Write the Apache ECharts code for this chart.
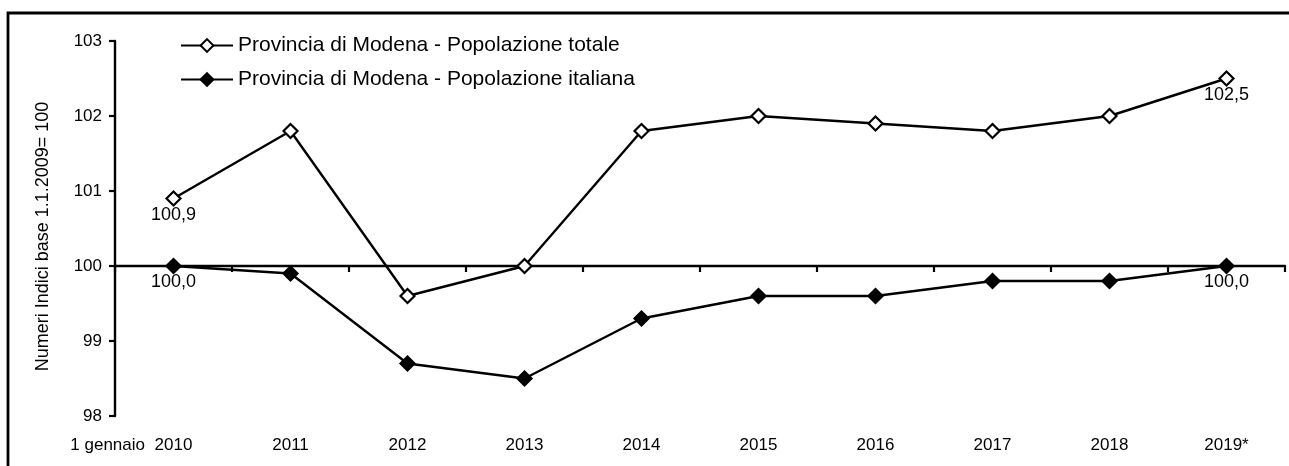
<!DOCTYPE html>
<html>
<head>
<meta charset="utf-8">
<script src="https://cdn.jsdelivr.net/npm/echarts@6/dist/echarts.min.js"></script>
<style>
html,body{margin:0;padding:0;background:#fff;}
#chart{width:1289px;height:466px;}
</style>
</head>
<body>
<div id="chart"></div>
<script>
const categories = ['2010','2011','2012','2013','2014','2015','2016','2017','2018','2019*'];
const totale = [100.9, 101.8, 99.6, 100.0, 101.8, 102.0, 101.9, 101.8, 102.0, 102.5];
const italiana = [100.0, 99.9, 98.7, 98.5, 99.3, 99.6, 99.6, 99.8, 99.8, 100.0];
const seriesNames = ['Provincia di Modena - Popolazione totale', 'Provincia di Modena - Popolazione italiana'];
const yAxisName = 'Numeri Indici base 1.1.2009= 100';
const xPrefix = '1 gennaio';
const labelledIdx = [0, 9];

const FONT = '"Liberation Sans", Arial, sans-serif';
const fmt = v => v.toFixed(1).replace('.', ',');

const chart = echarts.init(document.getElementById('chart'), null, {renderer: 'canvas'});

function labelled(arr) {
  return arr.map((v, i) => labelledIdx.includes(i)
    ? {value: v, label: {show: true, position: 'bottom', distance: -1, formatter: p => fmt(p.value), color: '#000', fontFamily: FONT, fontSize: 18}}
    : v);
}

chart.setOption({
  animation: false,
  backgroundColor: '#fff',
  textStyle: {fontFamily: FONT, color: '#000'},
  grid: {left: 115, right: 4, top: 41, bottom: 50, containLabel: false},
  legend: {
    orient: 'vertical', left: 180, top: 35, padding: 0,
    itemWidth: 52, itemHeight: 16, itemGap: 13,
    textStyle: {fontFamily: FONT, fontSize: 21, color: '#000'},
    data: seriesNames
  },
  xAxis: [
    {
      type: 'category', data: categories, boundaryGap: true, position: 'bottom',
      axisLine: {show: false}, axisTick: {show: false},
      axisLabel: {color: '#000', fontFamily: FONT, fontSize: 17, margin: 21, interval: 0},
      splitLine: {show: false}
    },
    {
      type: 'category', data: categories, boundaryGap: true, position: 'bottom', offset: -150,
      axisLine: {show: true, lineStyle: {color: '#000', width: 2.4}},
      axisTick: {show: true, inside: false, length: 6, lineStyle: {color: '#000', width: 2.2}, interval: 0},
      axisLabel: {show: false},
      splitLine: {show: false}
    }
  ],
  yAxis: {
    type: 'value', min: 98, max: 103, interval: 1,
    name: yAxisName, nameLocation: 'middle', nameGap: 63,
    nameTextStyle: {fontFamily: FONT, fontSize: 18, color: '#000', padding: [0, 16, 0, 0]},
    axisLine: {show: true, lineStyle: {color: '#000', width: 2.4}},
    axisTick: {show: true, length: 6, lineStyle: {color: '#000', width: 2.2}},
    axisLabel: {color: '#000', fontFamily: FONT, fontSize: 17, margin: 13},
    splitLine: {show: false}
  },
  series: [
    {
      name: seriesNames[0], type: 'line', data: labelled(totale),
      symbol: 'diamond', symbolSize: 14, showAllSymbol: true,
      lineStyle: {color: '#000', width: 2.4},
      itemStyle: {color: '#fff', borderColor: '#000', borderWidth: 2.2},
      z: 3
    },
    {
      name: seriesNames[1], type: 'line', data: labelled(italiana),
      symbol: 'diamond', symbolSize: 14, showAllSymbol: true,
      lineStyle: {color: '#000', width: 2.4},
      itemStyle: {color: '#000', borderColor: '#000', borderWidth: 2.2},
      z: 3
    }
  ],
  graphic: [
    {type: 'rect', shape: {x: 8, y: 13, width: 1320, height: 520}, style: {fill: 'none', stroke: '#000', lineWidth: 2.8}, silent: true},
    {type: 'text', x: 145, y: 445, style: {text: xPrefix, fill: '#000', font: '17px ' + FONT, textAlign: 'right', textVerticalAlign: 'middle'}}
  ]
});
</script>
</body>
</html>
